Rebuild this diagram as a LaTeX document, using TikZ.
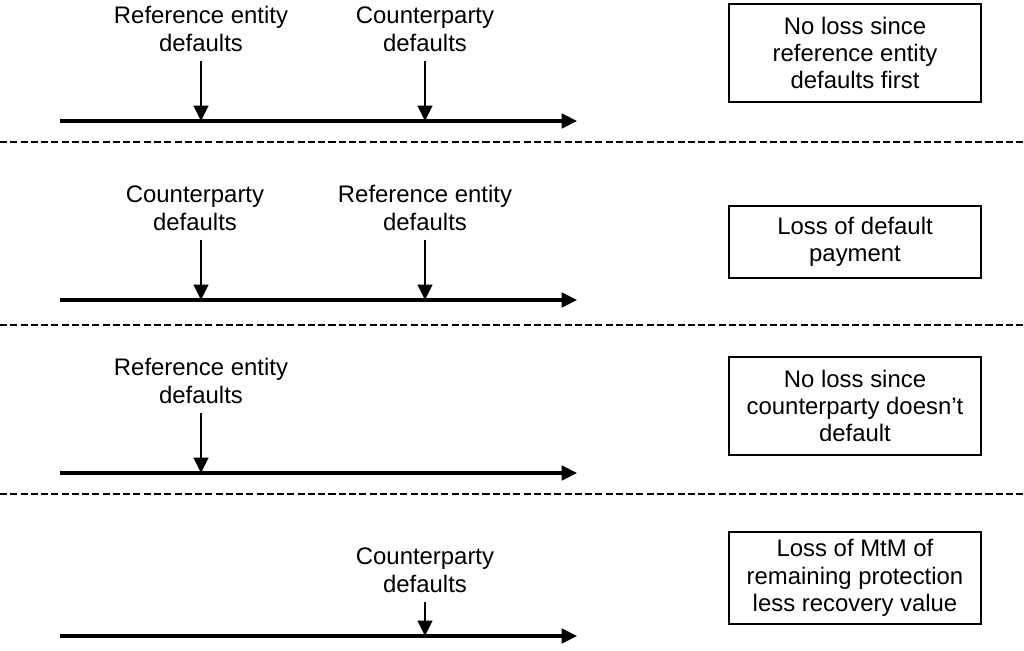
\documentclass[tikz,border=0pt]{standalone}
\usepackage{fontspec}
\setmainfont{Liberation Sans}
\usetikzlibrary{positioning,arrows.meta}

\begin{document}
\begin{tikzpicture}[x=0.025cm, y=-0.025cm,
    >={Triangle[length=11pt,width=10.5pt]},
    every node/.style = {font=\fontsize{17}{19.5}\selectfont, align=center},
    lbl/.style = {inner xsep=2pt, inner ysep=6.5pt, node distance=1.5cm},
    outcome/.style = {draw, line width=2pt, minimum width=6.3cm, inner sep=2pt},
    timeline/.style = {->, line width=2.2pt},
    hit/.style = {->, line width=1.7pt},
    sep/.style = {line width=1.3pt, dash pattern=on 5pt off 2.3pt}
    ]
    \useasboundingbox (0,0) rectangle (1024,650);

    % first case
    \coordinate (t1s) at (60,121);
    \coordinate (t1e) at (577,121);
    \coordinate (e1a) at (201,121);
    \coordinate (e1b) at (425,121);
    \node[lbl] (r1) [above=of e1a] {Reference entity\\defaults};
    \node[lbl] (c1) [above=of e1b] {Counterparty\\defaults};
    \node[outcome, minimum height=2.45cm] (o1) at (855,53) {No loss since\\reference entity\\defaults first};
    \draw[timeline] (t1s) -- (t1e);
    \draw[hit] (r1) -- (e1a);
    \draw[hit] (c1) -- (e1b);

    \coordinate (d1l) at (0,142);
    \coordinate (d1r) at (1024,142);
    \draw[sep] (d1l) -- (d1r);

    % second case
    \coordinate (t2s) at (60,300);
    \coordinate (t2e) at (577,300);
    \coordinate (e2a) at (201,300);
    \coordinate (e2b) at (425,300);
    \node[lbl] (c2) [above=of e2a, xshift=-0.15cm] {Counterparty\\defaults};
    \node[lbl] (r2) [above=of e2b] {Reference entity\\defaults};
    \node[outcome, minimum height=1.8cm] (o2) at (855,242) {Loss of default\\payment};
    \draw[timeline] (t2s) -- (t2e);
    \draw[hit] (c2.south -| e2a) -- (e2a);
    \draw[hit] (r2) -- (e2b);

    \coordinate (d2l) at (0,325);
    \coordinate (d2r) at (1024,325);
    \draw[sep] (d2l) -- (d2r);

    % third case
    \coordinate (t3s) at (60,473);
    \coordinate (t3e) at (577,473);
    \coordinate (e3a) at (201,473);
    \node[lbl] (r3) [above=of e3a] {Reference entity\\defaults};
    \node[outcome, minimum height=2.45cm] (o3) at (855,406) {No loss since\\counterparty doesn't\\default};
    \draw[timeline] (t3s) -- (t3e);
    \draw[hit] (r3) -- (e3a);

    \coordinate (d3l) at (0,494);
    \coordinate (d3r) at (1024,494);
    \draw[sep] (d3l) -- (d3r);

    % fourth case
    \coordinate (t4s) at (60,636);
    \coordinate (t4e) at (577,636);
    \coordinate (e4b) at (425,636);
    \node[lbl, node distance=0.85cm] (c4) [above=of e4b] {Counterparty\\defaults};
    \node[outcome, minimum height=2.3cm] (o4) at (855,578) {Loss of MtM of\\remaining protection\\less recovery value};
    \draw[timeline] (t4s) -- (t4e);
    \draw[hit] (c4) -- (e4b);
\end{tikzpicture}
\end{document}
